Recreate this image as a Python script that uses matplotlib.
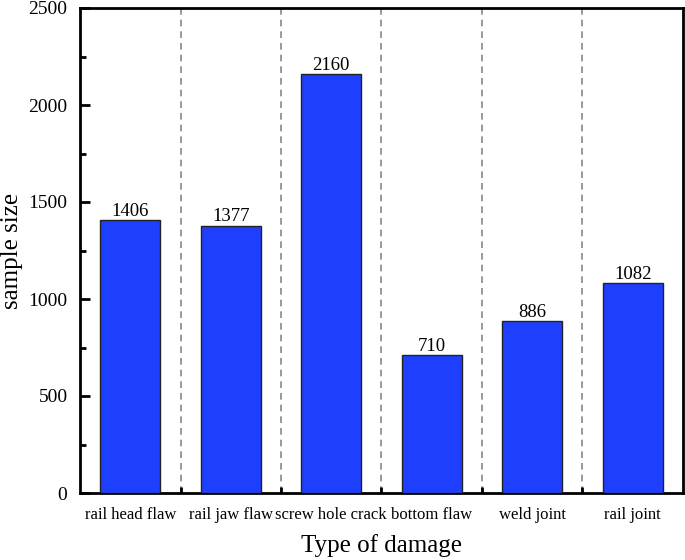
import matplotlib
matplotlib.use("Agg")
import matplotlib.pyplot as plt
from matplotlib.ticker import MultipleLocator, FixedLocator

categories = ["rail head flaw", "rail jaw flaw", "screw hole crack", "bottom flaw", "weld joint", "rail joint"]
values = [1406, 1377, 2160, 710, 886, 1082]

plt.rcParams['font.family'] = ['Liberation Serif', 'DejaVu Serif']

fig = plt.figure(figsize=(6.85, 5.6), dpi=100)
ax = fig.add_axes([80/685, 1-493/560, 603/685, 485/560])

x = list(range(len(categories)))
ax.bar(x, values, width=0.6, color='#1f3fff', edgecolor='#222222', linewidth=1.0, zorder=3)
for xi, v in zip(x, values):
    ax.text(xi, v + 2, str(v), ha='center', va='bottom', fontsize=13.5)

for b in range(1, len(categories)):
    ax.axvline(b - 0.5, color='#888888', linestyle=(0, (4, 3)), linewidth=1.2, zorder=1)

ax.set_xlim(-0.5, len(categories) - 0.5)
ax.set_ylim(0, 2500)
ax.set_xticks(x)
ax.set_xticklabels(categories, fontsize=12)
ax.xaxis.set_minor_locator(FixedLocator([b - 0.5 for b in range(1, len(categories))]))
ax.yaxis.set_major_locator(MultipleLocator(500))
ax.yaxis.set_minor_locator(MultipleLocator(250))
ax.tick_params(axis='both', which='major', direction='in', length=7, width=2, labelsize=14)
ax.tick_params(axis='y', which='major', pad=9)
ax.tick_params(axis='x', which='major', labelsize=12, pad=10)
ax.tick_params(axis='both', which='minor', direction='in', length=4, width=2)
for s in ax.spines.values():
    s.set_linewidth(2)

ax.set_xlabel("Type of damage", fontsize=18, labelpad=8)
ax.set_ylabel("sample size", fontsize=18, labelpad=4)

fig.savefig("out.png", dpi=100)
